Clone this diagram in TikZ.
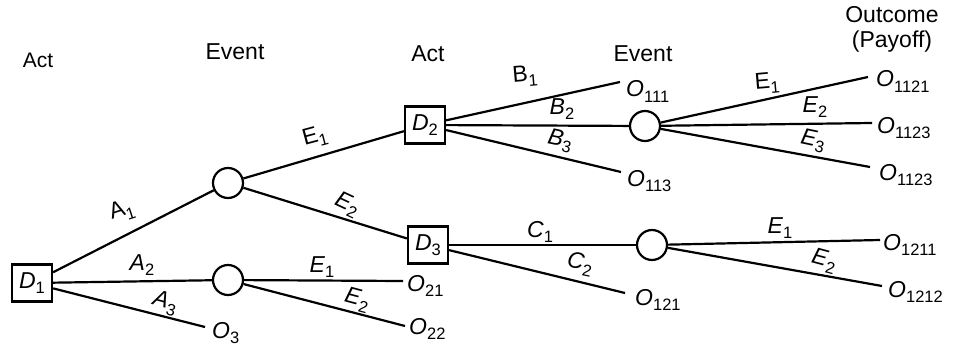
\documentclass[tikz,border=0pt]{standalone}
\usepackage{fontspec}
\setmainfont{Liberation Sans}
\newcommand\sbs[1]{\raisebox{-0.45ex}{\fontsize{16.5}{17}\selectfont #1}}
\newcommand\lI[2]{\textit{#1}\sbs{#2}}
\newcommand\lU[2]{#1\sbs{#2}}
\begin{document}
\begin{tikzpicture}[x=1pt,y=-1pt,
  ln/.style={line width=2.2pt},
  dbox/.style={draw,line width=2.2pt,minimum width=40pt,minimum height=37pt,inner sep=0pt,font=\fontsize{23}{26}\selectfont},
  chance/.style={draw,circle,line width=2.2pt,minimum size=30pt,inner sep=0pt},
  outlbl/.style={anchor=base west,inner sep=0pt,font=\fontsize{23}{26}\selectfont},
  lbl/.style={inner sep=0pt,font=\fontsize{23}{26}\selectfont},
  hdr/.style={inner sep=0pt,font=\fontsize{23}{25}\selectfont,align=center}]
\useasboundingbox[fill=white] (0,0) rectangle (958,350);

% headers
\node[hdr,font=\fontsize{21}{24}\selectfont] (h1) at (38,60) {Act};
\node[hdr] (h2) at (235,52) {Event};
\node[hdr] (h3) at (428,54) {Act};
\node[hdr] (h4) at (643,54) {Event};
\node[hdr] (h5) at (892,29) {Outcome\\(Payoff)};

% decision and chance nodes
\node[dbox] (D1) at (32,283) {\lI{D}{1}};
\node[chance] (c1) at (228,183) {};
\node[chance] (c2) at (228,280) {};
\node[dbox] (D2) at (425,125) {\lI{D}{2}};
\node[dbox] (D3) at (428,245) {\lI{D}{3}};
\node[chance] (c3) at (645,126) {};
\node[chance] (c4) at (652,245) {};

% outcome end points and labels
\coordinate (e3) at (205,327);
\node[outlbl] (o3) at (212,338) {\lI{O}{3}};
\coordinate (e21) at (403,281);
\node[outlbl] (o21) at (407,291) {\lI{O}{21}};
\coordinate (e22) at (405,326);
\node[outlbl] (o22) at (409,334) {\lI{O}{22}};
\coordinate (e111) at (620,82);
\node[outlbl] (o111) at (626,97) {\lI{O}{111}};
\coordinate (e113) at (621,172);
\node[outlbl] (o113) at (627,186) {\lI{O}{113}};
\coordinate (e121) at (625,293);
\node[outlbl] (o121) at (635,305) {\lI{O}{121}};
\coordinate (e1121) at (868,77);
\node[outlbl] (o1121) at (876,87) {\lI{O}{1121}};
\coordinate (e1123a) at (872,123);
\node[outlbl] (o1123a) at (877,133) {\lI{O}{1123}};
\coordinate (e1123b) at (870,167);
\node[outlbl] (o1123b) at (879,180) {\lI{O}{1123}};
\coordinate (e1211) at (880,240);
\node[outlbl] (o1211) at (883,250) {\lI{O}{1211}};
\coordinate (e1212) at (882,286);
\node[outlbl] (o1212) at (888,297) {\lI{O}{1212}};

% connectors
\draw[ln] (D1) -- (c1);
\draw[ln] (D1) -- (c2);
\draw[ln] (D1) -- (e3);
\draw[ln] (c1) -- (D2);
\draw[ln] (c1) -- (D3);
\draw[ln] (c2) -- (e21);
\draw[ln] (c2) -- (e22);
\draw[ln] (D2) -- (e111);
\draw[ln] (D2) -- (c3);
\draw[ln] (D2) -- (e113);
\draw[ln] (c3) -- (e1121);
\draw[ln] (c3) -- (e1123a);
\draw[ln] (c3) -- (e1123b);
\draw[ln] (D3) -- (c4);
\draw[ln] (D3) -- (e121);
\draw[ln] (c4) -- (e1211);
\draw[ln] (c4) -- (e1212);

% branch labels
\node[lbl,rotate=18] (la1) at (122,211) {\lU{A}{1}};
\node[lbl] (la2) at (142,265) {\lI{A}{2}};
\node[lbl,rotate=-15] (la3) at (165,303) {\lI{A}{3}};
\node[lbl,rotate=15] (le1a) at (315,137) {\lU{E}{1}};
\node[lbl,rotate=-25] (le2a) at (347,205) {\lI{E}{2}};
\node[lbl] (le1b) at (322,267) {\lI{E}{1}};
\node[lbl,rotate=-15] (le2b) at (357,300) {\lI{E}{2}};
\node[lbl,rotate=5] (lb1) at (525,76) {\lU{B}{1}};
\node[lbl] (lb2) at (562,109) {\lI{B}{2}};
\node[lbl,rotate=-12] (lb3) at (560,141) {\lI{B}{3}};
\node[lbl,rotate=5] (le1c) at (767,83) {\lU{E}{1}};
\node[lbl] (le2c) at (815,107) {\lI{E}{2}};
\node[lbl,rotate=-12] (le3c) at (813,141) {\lI{E}{3}};
\node[lbl] (lc1) at (540,232) {\lI{C}{1}};
\node[lbl,rotate=-12] (lc2) at (580,264) {\lI{C}{2}};
\node[lbl] (le1d) at (780,228) {\lI{E}{1}};
\node[lbl,rotate=-15] (le2d) at (824,261) {\lI{E}{2}};
\end{tikzpicture}
\end{document}
